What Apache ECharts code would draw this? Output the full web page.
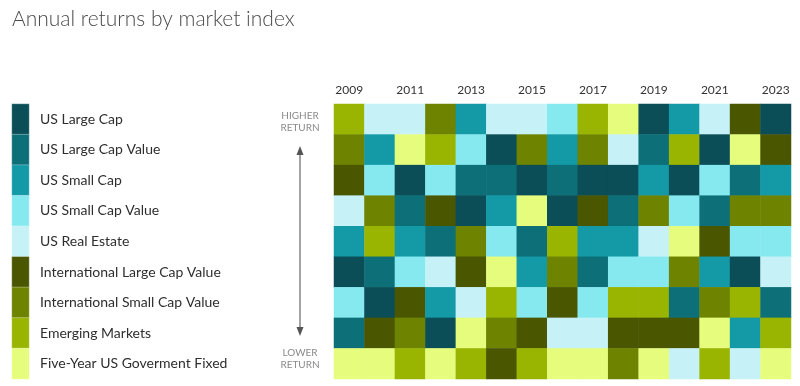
<!DOCTYPE html>
<html>
<head>
<meta charset="utf-8">
<script src="https://cdn.jsdelivr.net/npm/echarts@6/dist/echarts.min.js"></script>
<style>
html,body{margin:0;padding:0;background:#fff;}
#c{width:800px;height:386px;}
</style>
</head>
<body>
<div id="c"></div>
<script>
// Index names (legend order)
const indices = [
  'US Large Cap',
  'US Large Cap Value',
  'US Small Cap',
  'US Small Cap Value',
  'US Real Estate',
  'International Large Cap Value',
  'International Small Cap Value',
  'Emerging Markets',
  'Five-Year US Goverment Fixed'
];
const indexColors = ['#0b4e57','#0d6f78','#1499a7','#86e9f0','#c6f2f7','#4a5600','#6e8300','#99b501','#e5fc7c'];

const years = ['2009','2010','2011','2012','2013','2014','2015','2016','2017','2018','2019','2020','2021','2022','2023'];
const rankLabels = ['1','2','3','4','5','6','7','8','9'];

// For each year, index id placed at ranks 1 (highest) .. 9 (lowest)
const y2009 = [7,6,5,4,2,0,3,1,8];
const y2010 = [4,2,3,6,7,1,0,5,8];
const y2011 = [4,8,0,1,2,3,5,6,7];
const y2012 = [6,7,3,5,1,4,2,0,8];
const y2013 = [2,3,1,0,6,5,4,8,7];
const y2014 = [4,0,1,2,3,8,7,6,5];
const y2015 = [4,6,0,8,1,2,3,5,7];
const y2016 = [3,2,1,0,7,6,5,4,8];
const y2017 = [7,6,0,5,2,1,3,4,8];
const y2018 = [8,4,0,1,2,3,7,5,6];
const y2019 = [0,1,2,6,4,3,7,5,8];
const y2020 = [2,7,0,3,8,6,1,5,4];
const y2021 = [4,0,3,1,5,2,6,8,7];
const y2022 = [5,8,1,6,3,0,7,2,4];
const y2023 = [0,5,2,6,3,4,1,7,8];
const rankings = [y2009,y2010,y2011,y2012,y2013,y2014,y2015,y2016,y2017,y2018,y2019,y2020,y2021,y2022,y2023];

const heatData = [];
rankings.forEach((col, xi) => col.forEach((idx, r) => heatData.push([xi, r, idx])));
const legendData = indices.map((n, i) => [0, i, i]);

const FONT = 'Lato, "Open Sans", sans-serif';
const chart = echarts.init(document.getElementById('c'), null, {renderer: 'canvas'});

const gTop = 104, gH = 275;
chart.setOption({
  backgroundColor: '#fff',
  animation: false,
  title: {
    text: 'Annual returns by market index',
    left: 7, top: 4,
    textStyle: {fontFamily: FONT, fontSize: 21, fontWeight: 300, color: '#4a4a4a'}
  },
  visualMap: {
    type: 'piecewise',
    show: false,
    dimension: 2,
    seriesIndex: [0, 1],
    pieces: indexColors.map((c, i) => ({value: i, color: c}))
  },
  grid: [
    {left: 334, top: gTop, width: 457, height: gH},
    {left: 12, top: gTop, width: 17, height: gH}
  ],
  xAxis: [
    {
      type: 'category', gridIndex: 0, data: years, position: 'top',
      axisLine: {show: false}, axisTick: {show: false}, splitLine: {show: false},
      axisLabel: {interval: 1, margin: 8, fontFamily: FONT, fontSize: 12, color: '#333'}
    },
    {
      type: 'category', gridIndex: 1, data: [''], show: false
    }
  ],
  yAxis: [
    {
      type: 'category', gridIndex: 0, data: rankLabels, inverse: true, show: false
    },
    {
      type: 'category', gridIndex: 1, data: indices, inverse: true, position: 'right',
      axisLine: {show: false}, axisTick: {show: false}, splitLine: {show: false},
      axisLabel: {margin: 11, fontFamily: FONT, fontSize: 14, color: '#2e2e2e'}
    }
  ],
  series: [
    {
      type: 'heatmap', xAxisIndex: 0, yAxisIndex: 0, data: heatData,
      itemStyle: {borderWidth: 0},
      emphasis: {disabled: true}
    },
    {
      type: 'heatmap', xAxisIndex: 1, yAxisIndex: 1, data: legendData,
      itemStyle: {borderWidth: 0.6, borderColor: 'rgba(255,255,255,0.5)'},
      emphasis: {disabled: true}
    }
  ],
  graphic: [
    {type: 'text', x: 300, y: 110, style: {text: 'HIGHER\nRETURN', fill: '#8a8a8a', font: '10px ' + FONT, align: 'center', lineHeight: 12}},
    {type: 'text', x: 300, y: 347, style: {text: 'LOWER\nRETURN', fill: '#8a8a8a', font: '10px ' + FONT, align: 'center', lineHeight: 12}},
    {type: 'line', shape: {x1: 300, y1: 152, x2: 300, y2: 330}, style: {stroke: '#666', lineWidth: 1.2}},
    {type: 'polygon', shape: {points: [[300, 146], [296.5, 155], [303.5, 155]]}, style: {fill: '#555'}},
    {type: 'polygon', shape: {points: [[300, 336], [296.5, 327], [303.5, 327]]}, style: {fill: '#555'}}
  ]
});
</script>
</body>
</html>
